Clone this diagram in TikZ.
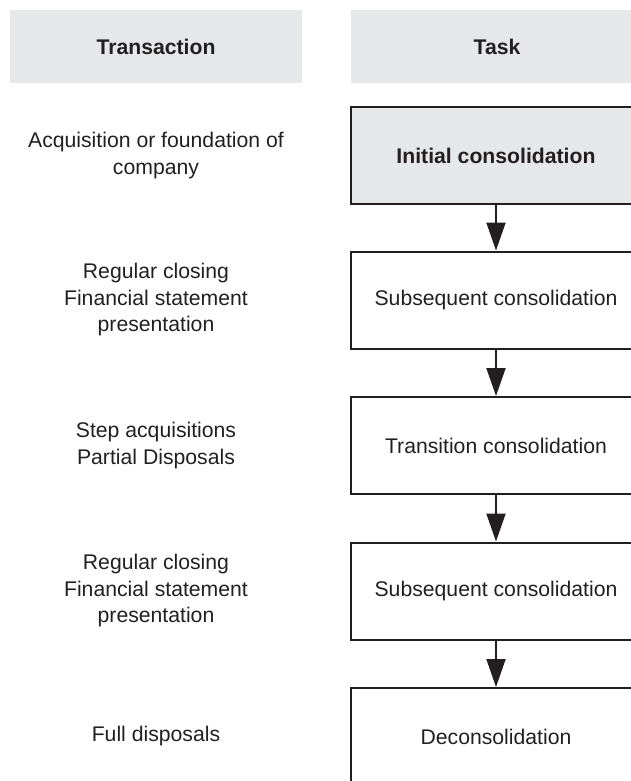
\documentclass[tikz,border=0pt]{standalone}
\usepackage{fontspec}
\setmainfont{Liberation Sans}
\usetikzlibrary{arrows.meta}
\definecolor{ink}{HTML}{231F20}
\definecolor{headgray}{HTML}{E6E7E8}
\begin{document}
\begin{tikzpicture}[x=1pt,y=-1pt,
  every node/.style={font=\fontsize{21.2}{26.5}\selectfont, text=ink},
  head/.style={fill=headgray, minimum width=292pt, minimum height=73pt,
    inner sep=0pt, font=\fontsize{21.2}{26.5}\selectfont\bfseries},
  taskbox/.style={draw=ink, line width=2pt, minimum width=290pt,
    minimum height=97pt, inner sep=0pt, align=center},
  trans/.style={align=center, inner sep=0pt},
  flow/.style={draw=ink, line width=2pt,
    -{Triangle[length=28pt,width=19pt]}}
]
\useasboundingbox (0,0) rectangle (631,781);
\clip (0,0) rectangle (631,781);

% column headers
\node[head] (hTrans) at (156,46.5) {Transaction};
\node[head] (hTask)  at (497,46.5) {Task};

% consolidation tasks
\node[taskbox, fill=headgray, font=\fontsize{21.2}{26.5}\selectfont\bfseries]
      (b1) at (496,155.5) {Initial consolidation};
\node[taskbox] (b2) at (496,300)   {Subsequent consolidation};
\node[taskbox] (b3) at (496,445.5) {Transition consolidation};
\node[taskbox] (b4) at (496,591)   {Subsequent consolidation};
\node[taskbox] (b5) at (496,736.5) {Deconsolidation};

% triggering transactions
\node[trans] (t1) at (156,155.5) {Acquisition or foundation of\\company};
\node[trans] (t2) at (156,300)   {Regular closing\\Financial statement\\presentation};
\node[trans] (t3) at (156,445.5) {Step acquisitions\\Partial Disposals};
\node[trans] (t4) at (156,591)   {Regular closing\\Financial statement\\presentation};
\node[trans] (t5) at (156,736.5) {Full disposals};

% sequence arrows
\draw[flow] (b1.south) -- (b2.north);
\draw[flow] (b2.south) -- (b3.north);
\draw[flow] (b3.south) -- (b4.north);
\draw[flow] (b4.south) -- (b5.north);
\end{tikzpicture}
\end{document}
